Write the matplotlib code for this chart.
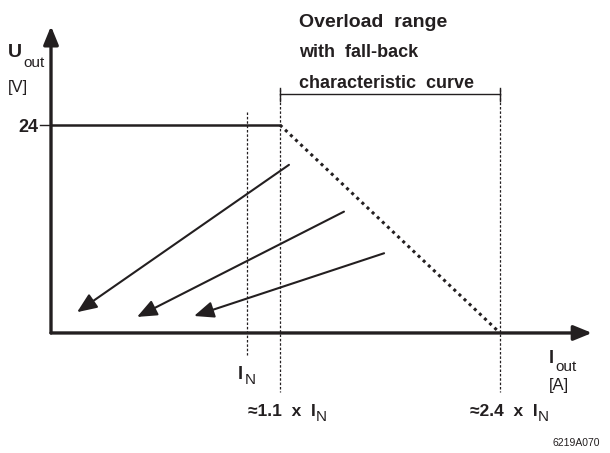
import numpy as np
import matplotlib
matplotlib.use("Agg")
import matplotlib.pyplot as plt

# ---- data (schematic characteristic) ----
U_rated = 24                    # V, output voltage level
x_IN = 1.0                      # nominal current I_N
x_knee = 1.1                    # start of fall-back (≈1.1 x I_N)
x_end = 2.4                     # end of fall-back (≈2.4 x I_N)
curve_x = [0.0, x_knee]         # constant-voltage segment
curve_y = [U_rated, U_rated]
fall_x = [x_knee, x_end]        # fall-back segment (dotted)
fall_y = [U_rated, 0.0]
# illustrative arrows: (start_x, start_y, end_x, end_y)
arrow_start_x = [1.153, 1.478, 1.715]
arrow_start_y = [19.4, 14.0, 9.2]
arrow_end_x = [0.133, 0.439, 0.730]
arrow_end_y = [2.4, 1.85, 1.96]
y_tick_labels = ["24"]
x_labels = ["I_N", "≈1.1 x I_N", "≈2.4 x I_N"]

# schematic (non-proportional) x scale
_xs = np.array([-1.0, 0.0, 1.0, 1.1, 2.4, 4.0])
_ps = np.array([-196.0, 0.0, 196.0, 229.0, 449.0, 449.0 + 1.6 * 169.23])
fwd = lambda v: np.interp(v, _xs, _ps)
inv = lambda p: np.interp(p, _ps, _xs)

W, H = 610, 453
fig = plt.figure(figsize=(W / 100, H / 100), dpi=100)
ax = fig.add_axes([0, 0, 1, 1])
ax.set_xscale("function", functions=(fwd, inv))
ax.set_xlim(inv(-51), inv(559))
ax.set_ylim(-13.85, 38.42)
ax.axis("off")

FONT = "Liberation Sans"
K = "#231f20"

# axes with arrows
ax.annotate("", xy=(inv(541), 0), xytext=(0, 0),
            arrowprops=dict(arrowstyle="-|>,head_length=1.1,head_width=0.45",
                            lw=2.4, color=K, shrinkA=0, shrinkB=0))
ax.annotate("", xy=(0, 35.4), xytext=(0, 0),
            arrowprops=dict(arrowstyle="-|>,head_length=1.1,head_width=0.45",
                            lw=2.4, color=K, shrinkA=0, shrinkB=0))

# characteristic
ax.plot(curve_x, curve_y, color=K, lw=1.8, solid_capstyle="butt")
ax.plot(fall_x, fall_y, color=K, lw=2.2, linestyle=(0, (1, 1.3)))

# 24 V tick
ax.plot([inv(-11), 0], [U_rated, U_rated], color=K, lw=1.0)

# vertical dotted guides
ax.plot([x_IN, x_IN], [25.5, -2.5], color=K, lw=0.9, linestyle=(0, (2, 1.5)))
ax.plot([x_knee, x_knee], [28.2, -6.8], color=K, lw=0.9, linestyle=(0, (2, 1.5)))
ax.plot([x_end, x_end], [28.2, -6.8], color=K, lw=0.9, linestyle=(0, (2, 1.5)))

# bracket for overload range
ax.plot([x_knee, x_end], [27.55, 27.55], color=K, lw=1.0)
ax.plot([x_knee, x_knee], [28.3, 26.8], color=K, lw=1.0)
ax.plot([x_end, x_end], [28.3, 26.8], color=K, lw=1.0)

# arrows
for sx, sy, ex, ey in zip(arrow_start_x, arrow_start_y, arrow_end_x, arrow_end_y):
    ax.annotate("", xy=(ex, ey), xytext=(sx, sy),
                arrowprops=dict(arrowstyle="-|>,head_length=1.2,head_width=0.5",
                                lw=1.5, color=K, shrinkA=0, shrinkB=0))

# ---- text ----
def px(x, y):
    return x / W, 1 - y / H

def t(x, y, s, size, bold=False, ha="left", va="baseline"):
    fig.text(*px(x, y), s, fontsize=size, fontfamily=FONT,
             fontweight="bold" if bold else "normal", ha=ha, va=va, color=K)

# title block
t(299, 27, "Overload  range", 14, True)
t(299, 57, "with  fall-back", 13, True)
t(299, 88, "characteristic  curve", 13, True)

# y-axis label
t(8, 57, "U", 14, True)
t(23, 67, "out", 11)
t(8, 92, "[V]", 12)
t(38, 125, y_tick_labels[0], 13, True, ha="right", va="center_baseline")

# x-axis label
t(549, 363, "I", 13, True)
t(555, 371, "out", 11)
t(549, 390, "[A]", 12)

# x annotations
t(238, 379, "I", 13, True)
t(245, 384, "N", 11)
t(248, 416, "≈1.1  x  I", 12.5, True)
t(316, 421, "N", 11)
t(470, 416, "≈2.4  x  I", 12.5, True)
t(538, 421, "N", 11)

t(600, 446, "6219A070", 7.5, ha="right")

fig.savefig("out.png", dpi=100)
